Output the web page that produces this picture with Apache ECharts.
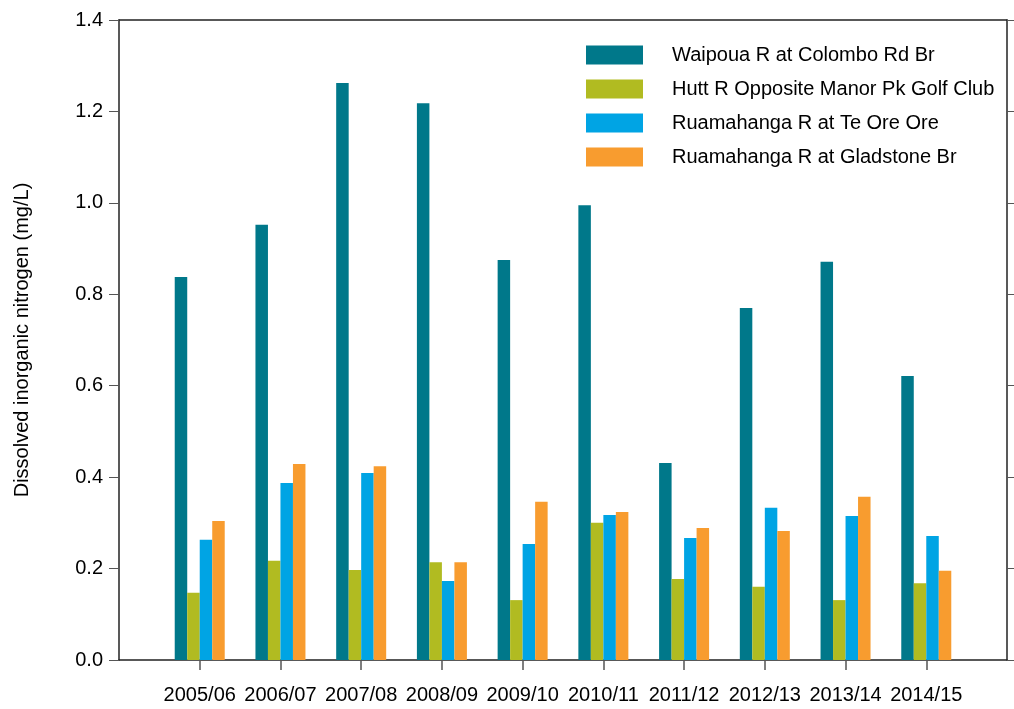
<!DOCTYPE html>
<html>
<head>
<meta charset="utf-8">
<script src="https://cdn.jsdelivr.net/npm/echarts@6/dist/echarts.min.js"></script>
<style>
  html, body { margin: 0; padding: 0; background: #fff; }
  #chart { width: 1014px; height: 709px; }
</style>
</head>
<body>
<div id="chart"></div>
<script>
const years = ['2005/06', '2006/07', '2007/08', '2008/09', '2009/10', '2010/11', '2011/12', '2012/13', '2013/14', '2014/15']
const seriesNames = ['Waipoua R at Colombo Rd Br', 'Hutt R Opposite Manor Pk Golf Club', 'Ruamahanga R at Te Ore Ore', 'Ruamahanga R at Gladstone Br']
const waipoua = [0.838, 0.952, 1.262, 1.218, 0.875, 0.995, 0.431, 0.770, 0.871, 0.621]
const hutt = [0.147, 0.217, 0.197, 0.214, 0.131, 0.300, 0.177, 0.160, 0.131, 0.168]
const teOreOre = [0.263, 0.387, 0.409, 0.173, 0.254, 0.317, 0.267, 0.333, 0.315, 0.271]
const gladstone = [0.304, 0.429, 0.424, 0.214, 0.346, 0.324, 0.289, 0.282, 0.357, 0.195]
const colors = ['#00788a', '#b1bb21', '#00a4e4', '#f89c2f']

const font = '"Liberation Sans", Arial, sans-serif'

// frame box: 119..1007 wide; the year bands sit half a band in from each side
const frame = { left: 119, right: 7, top: 20, bottom: 49 }
const band = (1014 - frame.left - frame.right) / 11

const frameLine = { show: true, onZero: false, lineStyle: { color: '#222', width: 1.5 } }

const chart = echarts.init(document.getElementById('chart'))

const option = {
    backgroundColor: '#fff',
    animation: false,
    color: colors,
    grid: [
        frame,
        { left: frame.left + band / 2, right: frame.right + band / 2, top: frame.top, bottom: frame.bottom }
    ],
    legend: {
        orient: 'vertical',
        left: 586,
        top: 45,
        padding: 0,
        itemWidth: 57,
        itemHeight: 19,
        itemGap: 14,
        icon: 'rect',
        textStyle: { fontFamily: font, fontSize: 20, lineHeight: 19, color: '#000', padding: [0, 0, 0, 24] },
        data: seriesNames
    },
    xAxis: [{
        gridIndex: 0,
        type: 'value',
        position: 'bottom',
        min: 0,
        max: 1,
        axisLine: frameLine,
        axisTick: { show: false },
        axisLabel: { show: false },
        splitLine: { show: false }
    }, {
        gridIndex: 0,
        type: 'value',
        position: 'top',
        min: 0,
        max: 1,
        axisLine: frameLine,
        axisTick: { show: false },
        axisLabel: { show: false },
        splitLine: { show: false }
    }, {
        gridIndex: 1,
        type: 'category',
        data: years,
        axisLine: { show: false, onZero: false },
        axisTick: { show: true, alignWithLabel: true, length: 10, lineStyle: { color: '#555', width: 1.5 } },
        axisLabel: { interval: 0, margin: 25, fontFamily: font, fontSize: 20, color: '#000' },
        splitLine: { show: false }
    }],
    yAxis: [{
        gridIndex: 0,
        type: 'value',
        position: 'left',
        min: 0,
        max: 1.4,
        interval: 0.2,
        name: 'Dissolved inorganic nitrogen (mg/L)',
        nameLocation: 'middle',
        nameGap: 87,
        nameTextStyle: { fontFamily: font, fontSize: 20, color: '#000' },
        axisLine: frameLine,
        axisTick: { show: true, length: 10, lineStyle: { color: '#555', width: 1 } },
        axisLabel: { margin: 16, fontFamily: font, fontSize: 20, color: '#000', formatter: (v) => v.toFixed(1) },
        splitLine: { show: false }
    }, {
        gridIndex: 0,
        type: 'value',
        position: 'right',
        min: 0,
        max: 1.4,
        interval: 0.2,
        axisLine: frameLine,
        axisTick: { show: true, length: 8, lineStyle: { color: '#555', width: 1 } },
        axisLabel: { show: false },
        splitLine: { show: false }
    }, {
        gridIndex: 1,
        type: 'value',
        min: 0,
        max: 1.4,
        show: false
    }],
    series: [waipoua, hutt, teOreOre, gladstone].map((vals, i) => ({
        name: seriesNames[i],
        type: 'bar',
        xAxisIndex: 2,
        yAxisIndex: 2,
        barWidth: 12.5,
        barGap: '0%',
        data: vals
    }))
}

chart.setOption(option)
</script>
</body>
</html>
